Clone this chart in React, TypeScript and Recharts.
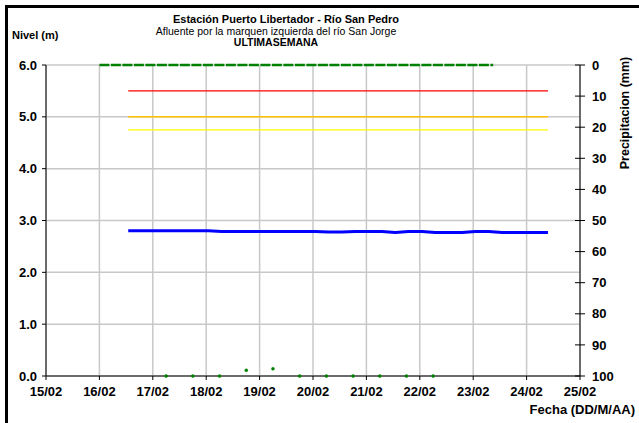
import React from 'react';
import { ComposedChart, Line, XAxis, YAxis, CartesianGrid } from 'recharts';

// nivel del río (m), lecturas cada 6 h desde 16/02 13:00
const levelDays = [16.54, 16.79, 17.04, 17.29, 17.54, 17.79, 18.04, 18.29, 18.54, 18.79, 19.04, 19.29, 19.54, 19.79, 20.04, 20.29, 20.54, 20.79, 21.04, 21.29, 21.54, 21.79, 22.04, 22.29, 22.54, 22.79, 23.04, 23.29, 23.54, 23.79, 24.04, 24.29, 24.4];
const levelValues = [2.8, 2.8, 2.8, 2.8, 2.8, 2.8, 2.8, 2.79, 2.79, 2.79, 2.79, 2.79, 2.79, 2.79, 2.79, 2.78, 2.78, 2.79, 2.79, 2.79, 2.77, 2.79, 2.79, 2.77, 2.77, 2.77, 2.79, 2.79, 2.77, 2.77, 2.77, 2.77, 2.77];

// umbrales de alerta
const thresholdDays = [16.54, 24.4];
const redLevel = 5.5;
const orangeLevel = 5.0;
const yellowLevel = 4.75;

// precipitación (mm), eje derecho invertido
const precipDays = [16.0, 23.375];
const precipValues = [0, 0];

// puntos verdes sobre el eje de nivel
const dotDays = [17.25, 17.75, 18.25, 18.75, 19.25, 19.75, 20.25, 20.75, 21.25, 21.75, 22.25];
const dotValues = [0, 0, 0, 0.11, 0.14, 0, 0, 0, 0, 0, 0];

const dayTicks = [15, 16, 17, 18, 19, 20, 21, 22, 23, 24, 25];
const levelTicks = [0, 1, 2, 3, 4, 5, 6];
const precipTicks = [0, 10, 20, 30, 40, 50, 60, 70, 80, 90, 100];

const levelData = levelDays.map((d, i) => ({ day: d, level: levelValues[i] }));
const thresholdData = thresholdDays.map((d) => ({ day: d, red: redLevel, orange: orangeLevel, yellow: yellowLevel }));
const precipData = precipDays.map((d, i) => ({ day: d, precip: precipValues[i] }));
const dotData = dotDays.map((d, i) => ({ day: d, dots: dotValues[i] }));

const font = '"Liberation Sans", Arial, sans-serif';
const tickStyle = { fill: '#000', fontSize: 13, fontWeight: 'bold' as const, fontFamily: font };

export default function App() {
    return (
        <div style={{ position: 'absolute', left: 0, top: 0, width: 639, height: 423, background: '#fff', fontFamily: font }}>
            <div style={{ position: 'absolute', left: 5, top: 5, width: 634, height: 3, background: '#000' }} />
            <div style={{ position: 'absolute', left: 5, top: 5, width: 3, height: 418, background: '#000' }} />
            <ComposedChart width={639} height={423} margin={{ top: 65, right: 0, bottom: 0, left: 0 }}>
                <CartesianGrid stroke="#c8c8c8" strokeWidth={1.5} verticalValues={dayTicks} horizontalValues={levelTicks} yAxisId="lvl" />
                <XAxis
                    type="number"
                    dataKey="day"
                    domain={[15, 25]}
                    ticks={dayTicks}
                    allowDuplicatedCategory={false}
                    height={47}
                    stroke="#000"
                    tickSize={4}
                    tickMargin={7}
                    tick={tickStyle}
                    tickFormatter={(v: number) => String(v).padStart(2, '0') + '/02'}
                />
                <YAxis
                    yAxisId="lvl"
                    domain={[0, 6]}
                    ticks={levelTicks}
                    width={46}
                    stroke="#000"
                    tickSize={4}
                    tickMargin={5}
                    tick={tickStyle}
                    tickFormatter={(v: number) => v.toFixed(1)}
                />
                <YAxis
                    yAxisId="pp"
                    orientation="right"
                    reversed
                    domain={[0, 100]}
                    ticks={precipTicks}
                    width={59}
                    stroke="#000"
                    tickSize={10}
                    tickLine={{ transform: 'translate(-5,0)' }}
                    tick={tickStyle}
                />
                <Line yAxisId="lvl" data={thresholdData} dataKey="red" stroke="#ff0000" strokeWidth={1.3} dot={false} isAnimationActive={false} />
                <Line yAxisId="lvl" data={thresholdData} dataKey="orange" stroke="#ffc000" strokeWidth={1.5} dot={false} isAnimationActive={false} />
                <Line yAxisId="lvl" data={thresholdData} dataKey="yellow" stroke="#ffff00" strokeWidth={1.3} dot={false} isAnimationActive={false} />
                <Line yAxisId="lvl" data={levelData} dataKey="level" stroke="#0000ff" strokeWidth={3} dot={false} isAnimationActive={false} />
                <Line yAxisId="pp" data={precipData} dataKey="precip" stroke="#008000" strokeWidth={2.5} strokeDasharray="10 1.5" dot={false} isAnimationActive={false} />
                <Line
                    yAxisId="lvl"
                    data={dotData}
                    dataKey="dots"
                    stroke="none"
                    dot={{ r: 1.5, fill: '#008000', stroke: '#008000', strokeWidth: 0.5 }}
                    isAnimationActive={false}
                />
                <text x={286} y={23} textAnchor="middle" fontSize={11} fontWeight="bold" fontFamily={font}>Estación Puerto Libertador - Río San Pedro</text>
                <text x={276} y={35} textAnchor="middle" fontSize={10.5} fontFamily={font}>Afluente por la marquen izquierda del río San Jorge</text>
                <text x={276} y={46} textAnchor="middle" fontSize={10.5} fontWeight="bold" fontFamily={font}>ULTIMASEMANA</text>
                <text x={12} y={39} fontSize={11} fontWeight="bold" fontFamily={font}>Nivel (m)</text>
                <text x={635} y={414} textAnchor="end" fontSize={13} fontWeight="bold" fontFamily={font}>Fecha (DD/M/AA)</text>
                <text x={0} y={0} transform="translate(629,113) rotate(-90)" textAnchor="middle" fontSize={12.5} fontWeight="bold" fontFamily={font}>Precipitacion (mm)</text>
            </ComposedChart>
        </div>
    );
}
